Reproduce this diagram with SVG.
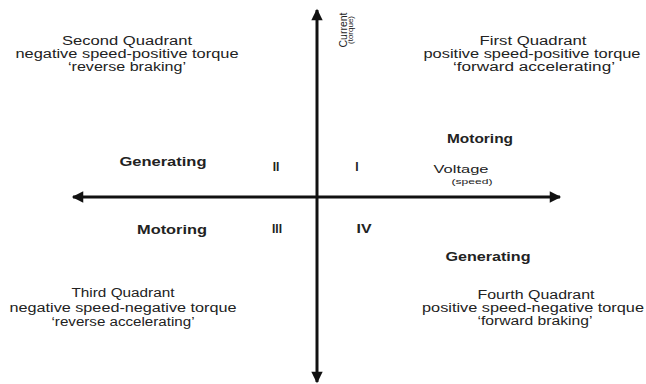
<svg xmlns="http://www.w3.org/2000/svg" width="646" height="384" viewBox="0 0 646 384">
<defs>
<marker id="ah" viewBox="0 0 10 10" refX="9" refY="5" markerWidth="4.2" markerHeight="3.8" orient="auto" markerUnits="strokeWidth">
<path d="M0,0 L10,5 L0,10 z" fill="#111"/>
</marker>
<style>
text{font-family:"Liberation Sans",Arial,sans-serif;fill:#222;text-anchor:middle}
.n{font-size:12px}
.b{font-size:12px;font-weight:bold}
.r{font-size:12px;font-weight:bold}
.s{font-size:7px}
.ax{stroke:#111;stroke-width:3;fill:none}
</style>
</defs>
<rect width="646" height="384" fill="#fff"/>
<g id="connectors">
<line class="ax" x1="317" y1="197" x2="317" y2="10" marker-end="url(#ah)"/>
<line class="ax" x1="317" y1="197" x2="317" y2="382" marker-end="url(#ah)"/>
<line class="ax" x1="317" y1="197" x2="560" y2="197" marker-end="url(#ah)"/>
<line class="ax" x1="317" y1="197" x2="73" y2="197" marker-end="url(#ah)"/>
</g>
<g id="q2">
<text class="n" x="127" y="45" textLength="130" lengthAdjust="spacingAndGlyphs">Second Quadrant</text>
<text class="n" x="127" y="58" textLength="223" lengthAdjust="spacingAndGlyphs">negative speed-positive torque</text>
<text class="n" x="127" y="71" textLength="118" lengthAdjust="spacingAndGlyphs">‘reverse braking’</text>
</g>
<g id="q1">
<text class="n" x="533" y="45" textLength="107" lengthAdjust="spacingAndGlyphs">First Quadrant</text>
<text class="n" x="532" y="58" textLength="217" lengthAdjust="spacingAndGlyphs">positive speed-positive torque</text>
<text class="n" x="534" y="71" textLength="162" lengthAdjust="spacingAndGlyphs">‘forward accelerating’</text>
</g>
<g id="q3">
<text class="n" x="123" y="297" textLength="103" lengthAdjust="spacingAndGlyphs">Third Quadrant</text>
<text class="n" x="123" y="312" textLength="227" lengthAdjust="spacingAndGlyphs">negative speed-negative torque</text>
<text class="n" x="123" y="326" textLength="143" lengthAdjust="spacingAndGlyphs">‘reverse accelerating’</text>
</g>
<g id="q4">
<text class="n" x="536" y="299" textLength="117" lengthAdjust="spacingAndGlyphs">Fourth Quadrant</text>
<text class="n" x="533" y="312" textLength="222" lengthAdjust="spacingAndGlyphs">positive speed-negative torque</text>
<text class="n" x="535" y="325" textLength="115" lengthAdjust="spacingAndGlyphs">‘forward braking’</text>
</g>
<g id="current-label">
<text class="n" style="font-size:11px" transform="translate(347,30) rotate(-90)" textLength="35" lengthAdjust="spacingAndGlyphs">Current</text>
<text class="s" transform="translate(353,30) rotate(-90)" textLength="28" lengthAdjust="spacingAndGlyphs">(torque)</text>
</g>
<g id="voltage-label">
<text class="n" style="font-size:11px" x="461" y="173" textLength="55" lengthAdjust="spacingAndGlyphs">Voltage</text>
<text class="s" x="472" y="184" textLength="41" lengthAdjust="spacingAndGlyphs">(speed)</text>
</g>
<g id="modes">
<text class="b" x="480" y="143" textLength="66" lengthAdjust="spacingAndGlyphs">Motoring</text>
<text class="b" x="163" y="166" textLength="87" lengthAdjust="spacingAndGlyphs">Generating</text>
<text class="b" x="172" y="234" textLength="70" lengthAdjust="spacingAndGlyphs">Motoring</text>
<text class="b" x="488" y="261" textLength="85" lengthAdjust="spacingAndGlyphs">Generating</text>
</g>
<g id="numerals">
<text class="r" x="276" y="171">II</text>
<text class="r" x="357" y="171">I</text>
<text class="r" x="277" y="233">III</text>
<text class="r" x="364" y="233" textLength="15" lengthAdjust="spacingAndGlyphs">IV</text>
</g>
</svg>
